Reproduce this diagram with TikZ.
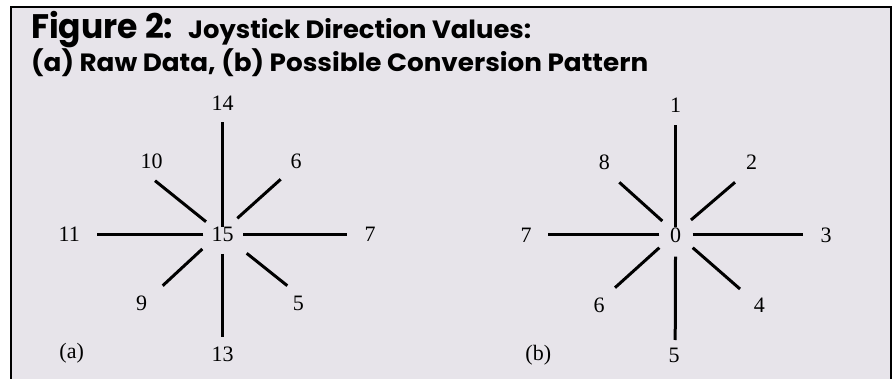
\documentclass[tikz,border=0pt]{standalone}
\usepackage{fontspec}
\usepackage{graphicx}
\setmainfont{Liberation Serif}
\newfontfamily\titlefont{Poppins}
\definecolor{bgfill}{RGB}{231,228,234}
\tikzset{
  lbl/.style={font=\fontsize{22}{22}\selectfont, inner sep=0pt},
  ray/.style={line width=3pt, black},
  frameline/.style={line width=2pt, black},
  ttl/.style={anchor=base west, inner sep=0pt, font=\titlefont\bfseries}
}
\begin{document}
\begin{tikzpicture}[x=1pt,y=-1pt]
\useasboundingbox (0,0) rectangle (896,379);
\fill[bgfill] (11,7) rectangle (891,379);
\draw[frameline] (11,380) -- (11,7) -- (891,7) -- (891,380);

% title
\node[ttl] (t1) at (31,39) {\resizebox{142pt}{\height}{\fontsize{34}{34}\selectfont Figure 2:}};
\node[ttl] (t2) at (188,39) {\resizebox{343pt}{\height}{\fontsize{25}{25}\selectfont Joystick Direction Values:}};
\node[ttl] (t3) at (31,71.5) {\resizebox{617pt}{\height}{\fontsize{25}{25}\selectfont (a) Raw Data, (b) Possible Conversion Pattern}};

% ---------- star (a) ----------
\node[lbl] (a15) at (222.7,234.3) {15};
\node[lbl] (a14) at (222.7,103.3) {14};
\node[lbl] (a13) at (222.7,354) {13};
\node[lbl] (a11) at (69.3,234.3) {11};
\node[lbl] (a7) at (370,234.3) {7};
\node[lbl] (a10) at (151.7,161) {10};
\node[lbl] (a6) at (296,161) {6};
\node[lbl] (a9) at (141.7,303.3) {9};
\node[lbl] (a5) at (298.3,303.3) {5};
\node[lbl] (alab) at (71.7,353.3) {(a)};

\coordinate (aUo) at (222.7,122.3);  \coordinate (aUi) at (222.7,226.7);
\coordinate (aDo) at (222.7,336.7);  \coordinate (aDi) at (222.7,254);
\coordinate (aLo) at (96.7,234.3);   \coordinate (aLi) at (203.3,234.3);
\coordinate (aRo) at (346.7,234.3);  \coordinate (aRi) at (243.3,234.3);
\coordinate (aULo) at (155,180.7);   \coordinate (aULi) at (206,221.7);
\coordinate (aURo) at (280.7,179.3); \coordinate (aURi) at (237.3,218.3);
\coordinate (aLLo) at (162.7,285.7); \coordinate (aLLi) at (202.3,249);
\coordinate (aLRo) at (287.3,285.7); \coordinate (aLRi) at (246.7,253.3);
\draw[ray] (aUi) -- (aUo);
\draw[ray] (aDi) -- (aDo);
\draw[ray] (aLi) -- (aLo);
\draw[ray] (aRi) -- (aRo);
\draw[ray] (aULi) -- (aULo);
\draw[ray] (aURi) -- (aURo);
\draw[ray] (aLLi) -- (aLLo);
\draw[ray] (aLRi) -- (aLRo);

% ---------- star (b) ----------
\node[lbl] (b0) at (675.7,235) {0};
\node[lbl] (b1) at (675.7,105) {1};
\node[lbl] (b5) at (674,355) {5};
\node[lbl] (b7) at (526,235) {7};
\node[lbl] (b3) at (826,235) {3};
\node[lbl] (b8) at (604.3,162.3) {8};
\node[lbl] (b2) at (751.7,162.3) {2};
\node[lbl] (b6) at (599,305) {6};
\node[lbl] (b4) at (759.3,305) {4};
\node[lbl] (blab) at (538.3,355) {(b)};

\coordinate (bUo) at (675.7,125);    \coordinate (bUi) at (675.7,226.7);
\coordinate (bDo) at (675.2,340);    \coordinate (bDi) at (675.5,256.7);
\coordinate (bLo) at (548.3,235);    \coordinate (bLi) at (659.3,235);
\coordinate (bRo) at (802.7,235);    \coordinate (bRi) at (692.7,235);
\coordinate (bULo) at (619.3,182.3); \coordinate (bULi) at (662.3,221);
\coordinate (bURo) at (735,182.3);   \coordinate (bURi) at (691,220);
\coordinate (bLLo) at (615,287.7);   \coordinate (bLLi) at (659.3,247.7);
\coordinate (bLRo) at (740,289);     \coordinate (bLRi) at (692.7,247.7);
\draw[ray] (bUi) -- (bUo);
\draw[ray] (bDi) -- (bDo);
\draw[ray] (bLi) -- (bLo);
\draw[ray] (bRi) -- (bRo);
\draw[ray] (bULi) -- (bULo);
\draw[ray] (bURi) -- (bURo);
\draw[ray] (bLLi) -- (bLLo);
\draw[ray] (bLRi) -- (bLRo);
\end{tikzpicture}
\end{document}
